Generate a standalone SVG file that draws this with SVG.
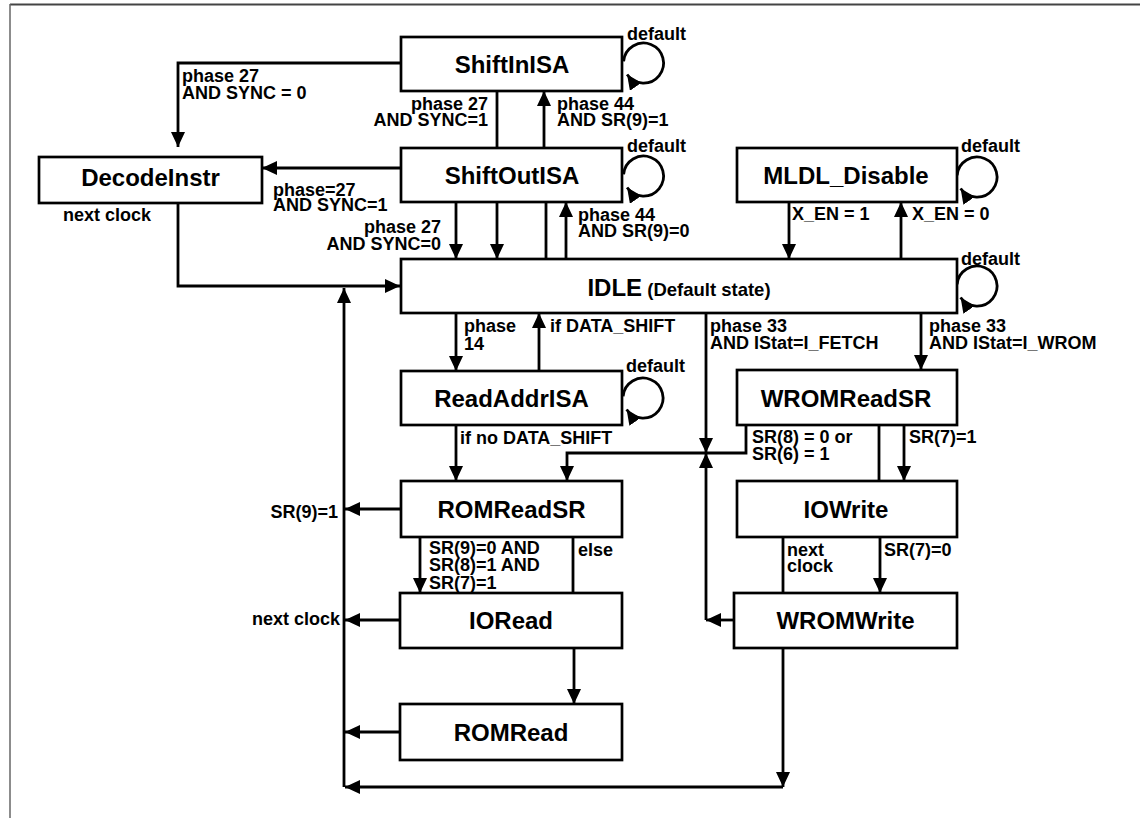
<svg xmlns="http://www.w3.org/2000/svg" width="1140" height="818" viewBox="0 0 1140 818">
<defs>
<style>
.box{fill:#fff;stroke:#000;stroke-width:2.7}
.n{font-family:'Liberation Sans',Arial,sans-serif;font-weight:bold;font-size:24px;text-anchor:middle;fill:#000}
.l{font-family:'Liberation Sans',Arial,sans-serif;font-weight:bold;font-size:18px;fill:#000}
.e{text-anchor:end}
.c{fill:none;stroke:#000;stroke-width:2.8}
.a{marker-end:url(#arr)}
</style>
<marker id="arr" markerUnits="userSpaceOnUse" markerWidth="16" markerHeight="14" refX="15" refY="7" orient="auto"><path d="M0,0 L15,7 L0,14 Z" fill="#000"/></marker>
</defs>
<rect width="1140" height="818" fill="#fff"/>
<g id="frame"><path d="M10,4.5 H1140" stroke="#444" stroke-width="2" fill="none"/><path d="M10,4 V818" stroke="#666" stroke-width="1.5" fill="none"/></g>

<g id="connectors">
<path class="c a" d="M401,63 H178 V147"/>
<path class="c a" d="M401,168 H262"/>
<path class="c" d="M497,91 V148"/>
<path class="c a" d="M544,148 V91"/>
<path class="c a" d="M456,202 V259"/>
<path class="c a" d="M497,202 V259"/>
<path class="c" d="M546,202 V259"/>
<path class="c a" d="M566,259 V202"/>
<path class="c a" d="M789,202 V259"/>
<path class="c a" d="M901,259 V202"/>
<path class="c a" d="M178,203 V286 H400"/>
<path class="c a" d="M456,313 V371"/>
<path class="c a" d="M539,371 V313"/>
<path class="c a" d="M706,313 V453"/>
<path class="c a" d="M921,313 V370"/>
<path class="c a" d="M456,425 V481"/>
<path class="c a" d="M746,425 V453 H567 V481"/>
<path class="c" d="M879,425 V481"/>
<path class="c a" d="M904,425 V481"/>
<path class="c a" d="M401,509 H345"/>
<path class="c a" d="M420,537 V593"/>
<path class="c" d="M573,537 V593"/>
<path class="c a" d="M400,620 H345"/>
<path class="c a" d="M574,648 V704"/>
<path class="c a" d="M400,732 H345"/>
<path class="c" d="M783,537 V593"/>
<path class="c a" d="M880,537 V593"/>
<path class="c a" d="M734,620 H706"/>
<path class="c a" d="M706,620 V453"/>
<path class="c a" d="M783,648 V787"/>
<path class="c a" d="M783,787 H345"/>
<path class="c a" d="M344,787 V288"/>
<path class="c a" d="M623.6,61.3 A20,20 0 1,1 627.1,74.5"/>
<path class="c a" d="M623.6,174.3 A20,20 0 1,1 627.1,187.5"/>
<path class="c a" d="M957.1,175.3 A20,20 0 1,1 960.6,188.5"/>
<path class="c a" d="M957.1,284.3 A20,20 0 1,1 960.6,297.5"/>
<path class="c a" d="M623.1,396.3 A20,20 0 1,1 626.6,409.5"/>

<text class="l" x="627" y="40">default</text>
<text class="l" x="627" y="152">default</text>
<text class="l" x="961" y="152">default</text>
<text class="l" x="961" y="265">default</text>
<text class="l" x="626" y="372">default</text>
<text class="l" x="182" y="82">phase 27<tspan x="182" y="99">AND SYNC = 0</tspan></text>
<text class="l" x="273" y="196">phase=27<tspan x="273" y="211">AND SYNC=1</tspan></text>
<text class="l e" x="488" y="110">phase 27<tspan x="488" y="126">AND SYNC=1</tspan></text>
<text class="l" x="557" y="110">phase 44<tspan x="557" y="126">AND SR(9)=1</tspan></text>
<text class="l e" x="441" y="233">phase 27<tspan x="441" y="250">AND SYNC=0</tspan></text>
<text class="l" x="578" y="221">phase 44<tspan x="578" y="237">AND SR(9)=0</tspan></text>
<text class="l" x="792" y="220">X_EN = 1</text>
<text class="l" x="912" y="220">X_EN = 0</text>
<text class="l" x="63" y="221">next clock</text>
<text class="l" x="464" y="332">phase<tspan x="464" y="350">14</tspan></text>
<text class="l" x="550" y="332">if DATA_SHIFT</text>
<text class="l" x="710" y="332">phase 33<tspan x="710" y="349">AND IStat=I_FETCH</tspan></text>
<text class="l" x="929" y="332">phase 33<tspan x="929" y="349">AND IStat=I_WROM</tspan></text>
<text class="l" x="460" y="444">if no DATA_SHIFT</text>
<text class="l" x="752" y="443">SR(8) = 0 or<tspan x="752" y="460">SR(6) = 1</tspan></text>
<text class="l" x="909" y="443">SR(7)=1</text>
<text class="l e" x="338" y="518">SR(9)=1</text>
<text class="l" x="429" y="554">SR(9)=0 AND<tspan x="429" y="571">SR(8)=1 AND</tspan><tspan x="429" y="589">SR(7)=1</tspan></text>
<text class="l" x="578" y="556">else</text>
<text class="l e" x="340" y="625">next clock</text>
<text class="l" x="787" y="556">next<tspan x="787" y="572">clock</tspan></text>
<text class="l" x="884" y="556">SR(7)=0</text>
</g>

<g id="ShiftInISA"><rect class="box" x="401" y="37" width="221" height="54"/><text class="n" x="512" y="72.5">ShiftInISA</text></g>
<g id="ShiftOutISA"><rect class="box" x="401" y="148" width="221" height="54"/><text class="n" x="512" y="183.5">ShiftOutISA</text></g>
<g id="DecodeInstr"><rect class="box" x="39" y="157" width="223" height="46"/><text class="n" x="150.5" y="185.5">DecodeInstr</text></g>
<g id="MLDL_Disable"><rect class="box" x="737" y="148" width="220" height="54"/><text class="n" x="846" y="184">MLDL_Disable</text></g>
<g id="IDLE"><rect class="box" x="401" y="259" width="556" height="54"/><text class="n" x="679" y="296">IDLE<tspan font-size="18.5px"> (Default state)</tspan></text></g>
<g id="ReadAddrISA"><rect class="box" x="401" y="371" width="221" height="54"/><text class="n" x="511.5" y="406.5">ReadAddrISA</text></g>
<g id="WROMReadSR"><rect class="box" x="737" y="370" width="220" height="55"/><text class="n" x="846" y="406.5">WROMReadSR</text></g>
<g id="ROMReadSR"><rect class="box" x="401" y="481" width="221" height="56"/><text class="n" x="511.5" y="518">ROMReadSR</text></g>
<g id="IOWrite"><rect class="box" x="737" y="481" width="220" height="56"/><text class="n" x="846" y="518">IOWrite</text></g>
<g id="IORead"><rect class="box" x="400" y="593" width="222" height="55"/><text class="n" x="511" y="629">IORead</text></g>
<g id="WROMWrite"><rect class="box" x="734" y="593" width="223" height="55"/><text class="n" x="845.5" y="629">WROMWrite</text></g>
<g id="ROMRead"><rect class="box" x="400" y="704" width="222" height="56"/><text class="n" x="511" y="741">ROMRead</text></g>
</svg>
